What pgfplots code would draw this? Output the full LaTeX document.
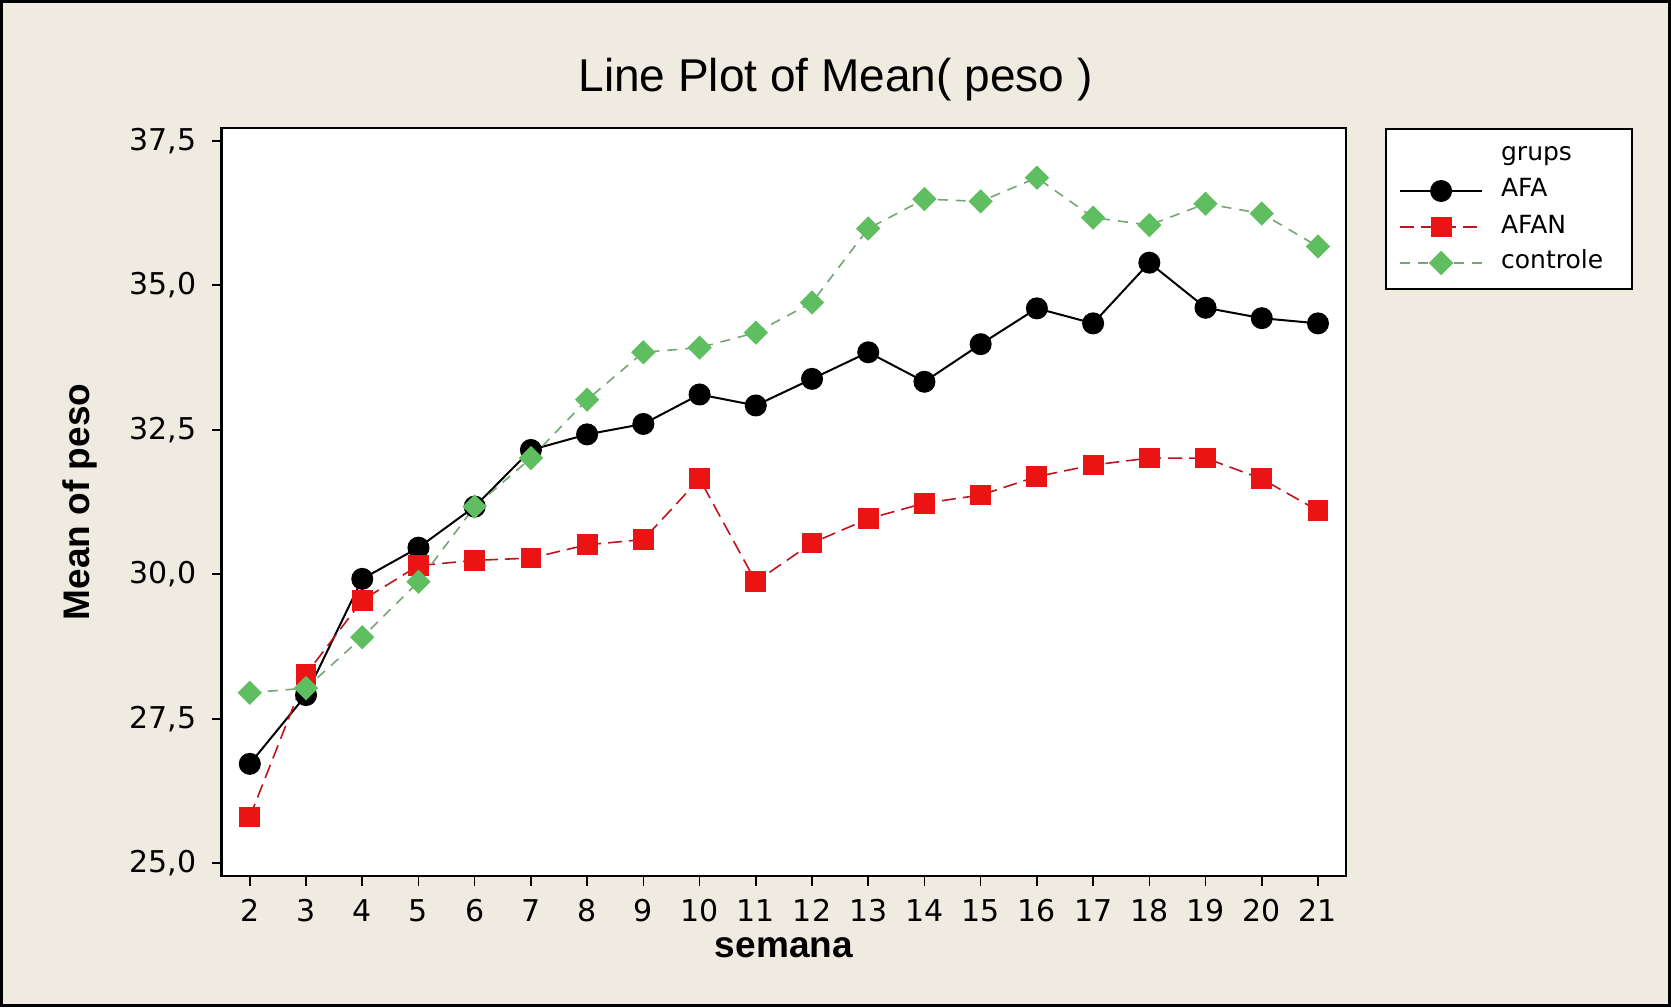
\documentclass[border=0pt]{standalone}
\usepackage{fontspec}
\setmainfont{DejaVu Sans}
\newfontfamily\lib{Liberation Sans}
\usepackage{pgfplots}
\pgfplotsset{compat=1.18}
\definecolor{bg}{RGB}{239,235,225}
\definecolor{afan}{RGB}{235,20,20}
\definecolor{afanline}{RGB}{190,20,30}
\definecolor{ctrl}{RGB}{95,190,95}
\definecolor{ctrlline}{RGB}{120,165,120}
\begin{document}
\begin{tikzpicture}[x=1pt,y=1pt]
\useasboundingbox (0,0) rectangle (835.5,503.5);
\fill[bg] (0,0) rectangle (835.5,503.5);
\draw[black, line width=1.5pt] (0.75,0.75) rectangle (834.75,502.75);
\node[font=\lib\fontsize{23}{27}\selectfont, anchor=base] at (417.75,457.7) {Line Plot of Mean( peso )};
\begin{axis}[
  at={(110.85pt,65.5pt)}, anchor=south west,
  scale only axis, width=562.2pt, height=374pt,
  xmin=1.5, xmax=21.5, ymin=24.78, ymax=37.72,
  xtick={2,...,21}, ytick={25,27.5,30,32.5,35,37.5},
  tick align=outside, xtick pos=bottom, ytick pos=left,
  major tick length=5pt,
  every tick/.style={black, line width=0.8pt},
  axis line style={line width=1.2pt},
  axis background/.style={fill=white},
  /pgf/number format/assume math mode=true,
  tick label style={font=\fontsize{15}{17}\selectfont, inner sep=0pt},
  y tick label style={xshift=-7.5pt, /pgf/number format/fixed, /pgf/number format/fixed zerofill, /pgf/number format/precision=1, /pgf/number format/use comma},
  x tick label style={yshift=-6.5pt},
  xlabel={semana}, ylabel={Mean of peso},
  label style={font=\lib\bfseries\fontsize{18.5}{22}\selectfont},
  xlabel style={at={(axis description cs:0.5,-0.1083)}, anchor=base},
  ylabel style={at={(axis description cs:-0.118,0.5)}, anchor=base},
  legend style={at={(rel axis cs:1,1)}, anchor=north west, xshift=19.5pt, draw=black, line width=1pt, fill=white, inner xsep=6.5pt, inner ysep=7pt, row sep=6pt, nodes={inner sep=0pt, text height=9pt, text depth=3pt}, font=\fontsize{12.5}{14}\selectfont, cells={anchor=west}, /tikz/every odd column/.append style={column sep=9pt}},
  legend image code/.code={\draw[#1, mark repeat=2, mark phase=2] plot coordinates {(0pt,0pt) (20.5pt,0pt) (41pt,0pt)};},
]
\addlegendimage{empty legend}
\addlegendentry{grups}
\addplot[black, line width=1pt, mark=*, mark size=5pt, mark options={solid}] coordinates {
(2,26.72) (3,27.91) (4,29.92) (5,30.46) (6,31.17) (7,32.15) (8,32.42) (9,32.60) (10,33.11) (11,32.92) (12,33.38) (13,33.84) (14,33.33) (15,33.98) (16,34.60) (17,34.34) (18,35.39) (19,34.61) (20,34.43) (21,34.34)};
\addlegendentry{AFA}
\addplot[afanline, line width=0.8pt, dash pattern=on 7pt off 3.5pt, mark=square*, mark size=4.8pt, mark options={solid, fill=afan, draw=afan}] coordinates {
(2,25.80) (3,28.27) (4,29.55) (5,30.15) (6,30.24) (7,30.28) (8,30.51) (9,30.60) (10,31.65) (11,29.87) (12,30.54) (13,30.96) (14,31.23) (15,31.37) (16,31.69) (17,31.89) (18,32.01) (19,32.01) (20,31.65) (21,31.10)};
\addlegendentry{AFAN}
\addplot[ctrlline, line width=0.8pt, dash pattern=on 5pt off 4pt, mark=square*, mark size=3.9pt, mark options={solid, rotate=45, fill=ctrl, draw=ctrl}] coordinates {
(2,27.95) (3,28.03) (4,28.91) (5,29.87) (6,31.17) (7,32.01) (8,33.02) (9,33.84) (10,33.92) (11,34.18) (12,34.70) (13,35.98) (14,36.49) (15,36.45) (16,36.86) (17,36.17) (18,36.04) (19,36.41) (20,36.24) (21,35.67)};
\addlegendentry{controle\hspace*{8pt}}
\end{axis}
\end{tikzpicture}
\end{document}
